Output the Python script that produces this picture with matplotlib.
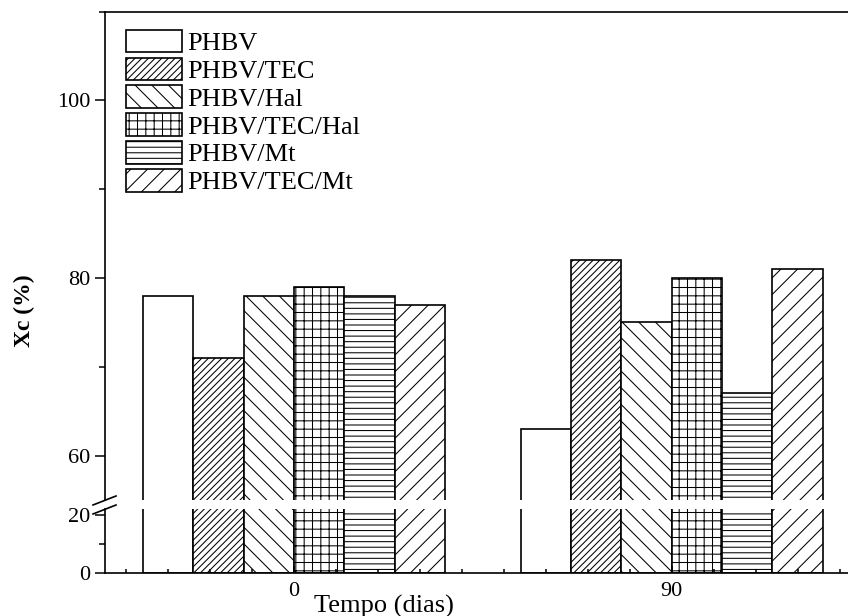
import matplotlib
matplotlib.use('Agg')
import matplotlib.pyplot as plt
from matplotlib.lines import Line2D
from matplotlib.ticker import MultipleLocator
import numpy as np

plt.rcParams['font.family'] = ['Liberation Serif', 'DejaVu Serif']
plt.rcParams['hatch.linewidth'] = 0.75

# data
days = [0, 90]
day_labels = ['0', '90']
samples = ['PHBV', 'PHBV/TEC', 'PHBV/Hal', 'PHBV/TEC/Hal', 'PHBV/Mt', 'PHBV/TEC/Mt']
xc_phbv = [78, 63]
xc_tec = [71, 82]
xc_hal = [78, 75]
xc_tec_hal = [79, 80]
xc_mt = [78, 67]
xc_tec_mt = [77, 81]
series = [xc_phbv, xc_tec, xc_hal, xc_tec_hal, xc_mt, xc_tec_mt]
hatches = ['', '/////', '\\\\', '++', '---', '//']

W, H = 848, 616
bar_w = 12

fig = plt.figure(figsize=(W / 100, H / 100), dpi=100)
# broken y axis: upper part 55-110, lower part 0-22
ax_top = fig.add_axes([105 / W, (H - 500) / H, 743 / W, 488.3 / H])
ax_bot = fig.add_axes([105 / W, (H - 573.3) / H, 743 / W, 64.5 / H])

for ax in (ax_top, ax_bot):
    for i, (name, vals, h) in enumerate(zip(samples, series, hatches)):
        x = np.array(days) + (i - 2.5) * bar_w
        ax.bar(x, vals, bar_w, facecolor='white', edgecolor='black',
               hatch=h, linewidth=1.2, label=name)
    ax.set_xlim(-45, 132)
    ax.spines['right'].set_visible(False)
    for s in ax.spines.values():
        s.set_linewidth(1.2)
    ax.tick_params(axis='y', which='major', direction='out', length=7, width=1.1, labelsize=16)
    ax.tick_params(axis='y', which='minor', direction='out', length=4, width=1.1)

ax_top.set_ylim(55, 110)
ax_top.set_yticks([60, 80, 100])
ax_top.yaxis.set_minor_locator(MultipleLocator(10))
ax_top.spines['bottom'].set_visible(False)
ax_top.tick_params(axis='x', which='both', bottom=False, labelbottom=False)

ax_bot.set_ylim(0, 22)
ax_bot.set_yticks([0, 20])
ax_bot.yaxis.set_minor_locator(MultipleLocator(10))
ax_bot.spines['top'].set_visible(False)
ax_bot.set_xticks(days, day_labels)
ax_bot.xaxis.set_minor_locator(MultipleLocator(10))
ax_bot.tick_params(axis='x', which='major', direction='in', length=5, width=1.1, labelsize=16, pad=6)
ax_bot.tick_params(axis='x', which='minor', direction='in', length=3, width=1.1)

# break marks on the left spine
for y0 in (505, 514):
    fig.add_artist(Line2D([93 / W, 116 / W], [(H - y0) / H, (H - y0 + 9) / H],
                          transform=fig.transFigure, color='black', linewidth=1.2))

leg = ax_top.legend(loc='upper left', bbox_to_anchor=(20.7 / 743, 1 - 18 / 488.3),
                    frameon=False, fontsize=19, handlelength=2.15, handleheight=0.95,
                    labelspacing=0.09, handletextpad=0.2, borderpad=0, borderaxespad=0)

fig.text(24 / W, 1 - 311 / H, 'Xc (%)', rotation=90, fontweight='bold', fontsize=17,
         ha='center', va='center')
fig.text(384 / W, 1 - 606 / H, 'Tempo (dias)', fontsize=19, ha='center', va='center')

fig.savefig('out.png', dpi=100)
